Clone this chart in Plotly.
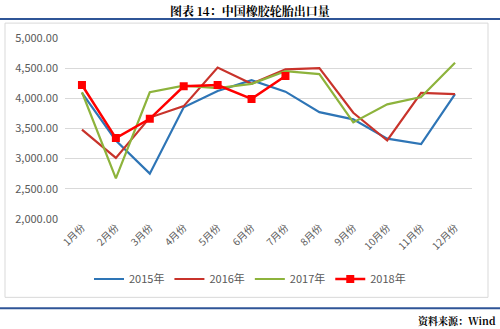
import plotly.graph_objects as go

months = ["1月份", "2月份", "3月份", "4月份", "5月份", "6月份", "7月份", "8月份", "9月份", "10月份", "11月份", "12月份"]
y2015 = [4090, 3300, 2750, 3850, 4120, 4300, 4110, 3770, 3650, 3330, 3240, 4070]
y2016 = [3480, 3010, 3680, 3870, 4510, 4240, 4480, 4500, 3760, 3300, 4090, 4070]
y2017 = [4100, 2670, 4100, 4210, 4170, 4240, 4450, 4400, 3600, 3900, 4020, 4590]
y2018 = [4220, 3340, 3660, 4200, 4220, 3990, 4370]

fig = go.Figure()
fig.add_trace(go.Scatter(x=months, y=y2015, mode="lines", name="2015年",
                         line=dict(color="#2E75B6", width=2.2)))
fig.add_trace(go.Scatter(x=months, y=y2016, mode="lines", name="2016年",
                         line=dict(color="#C8332B", width=2.2)))
fig.add_trace(go.Scatter(x=months, y=y2017, mode="lines", name="2017年",
                         line=dict(color="#8DB33C", width=2.2)))
fig.add_trace(go.Scatter(x=months[:len(y2018)], y=y2018, mode="lines+markers", name="2018年",
                         line=dict(color="#FF0000", width=2.5),
                         marker=dict(symbol="square", size=8, color="#FF0000")))

# pixel -> paper conversion (plot area: x 65..472, y 38..220)
W = 472 - 65
H = 220 - 38
def px(x):
    return (x - 65) / W
def py(y):
    return (220 - y) / H

font_cn = "Noto Sans CJK SC"
serif = "Noto Serif CJK SC, Noto Sans CJK SC"
fig.update_layout(
    width=500, height=329,
    margin=dict(l=65, r=28, t=38, b=109),
    paper_bgcolor="white", plot_bgcolor="white",
    font=dict(family=font_cn, size=11, color="#595959"),
    showlegend=True,
    legend=dict(orientation="h", xref="container", yref="container",
                x=0.5, xanchor="center", y=1 - 279 / 329, yanchor="middle",
                font=dict(size=11, color="#595959"),
                bgcolor="rgba(0,0,0,0)"),
    xaxis=dict(type="category", tickangle=-45, showgrid=False, zeroline=False,
               showline=False, ticks="", tickfont=dict(size=10, color="#595959"),
               range=[-0.5, 11.5]),
    yaxis=dict(range=[2000, 5000], dtick=500, tickformat=",.2f", showgrid=True,
               gridcolor="#D9D9D9", gridwidth=1, zeroline=False, showline=False,
               ticks="", ticklabelstandoff=6, tickfont=dict(size=11, color="#595959")),
    shapes=[
        dict(type="line", xref="paper", yref="paper", x0=px(0), x1=px(500), y0=py(19), y1=py(19),
             line=dict(color="#2F5597", width=2), layer="below"),
        dict(type="rect", xref="paper", yref="paper", x0=px(5), x1=px(488), y0=py(299), y1=py(23),
             line=dict(color="#D9D9D9", width=1), layer="below"),
        dict(type="line", xref="paper", yref="paper", x0=px(0), x1=px(500), y0=py(310), y1=py(310),
             line=dict(color="#2F5597", width=2), layer="below"),
    ],
    annotations=[
        dict(text="<b>图表 14：中国橡胶轮胎出口量</b>", xref="paper", yref="paper",
             x=px(250), y=py(10), xanchor="center", yanchor="middle", showarrow=False,
             font=dict(family=serif, size=12, color="#000000")),
        dict(text="<b>资料来源：Wind</b>", xref="paper", yref="paper",
             x=px(498), y=py(322), xanchor="right", yanchor="middle", showarrow=False,
             font=dict(family=serif, size=10, color="#000000")),
    ],
)

fig.write_html("out.html")
